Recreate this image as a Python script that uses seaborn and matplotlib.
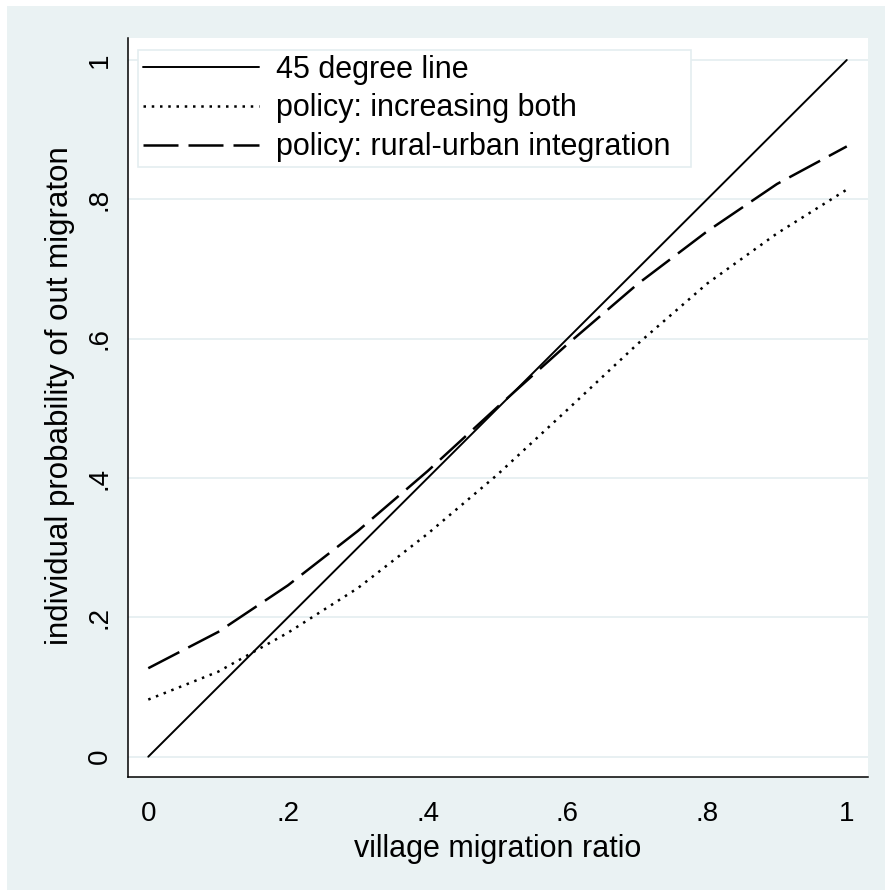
import numpy as np
import pandas as pd
import matplotlib
matplotlib.use("Agg")
import matplotlib.pyplot as plt
from matplotlib.patches import Rectangle
import seaborn as sns

# ---- data ----
village_ratio = [0.0, 0.1, 0.2, 0.3, 0.4, 0.5, 0.6, 0.7, 0.8, 0.9, 1.0]
line_45 = [0.0, 0.1, 0.2, 0.3, 0.4, 0.5, 0.6, 0.7, 0.8, 0.9, 1.0]
increasing_both = [0.082, 0.122, 0.178, 0.242, 0.320, 0.405, 0.498, 0.592, 0.679, 0.751, 0.814]
rural_urban = [0.127, 0.179, 0.246, 0.324, 0.410, 0.502, 0.592, 0.678, 0.754, 0.822, 0.876]

series_labels = ["45 degree line", "policy: increasing both", "policy: rural-urban integration"]
tick_values = [0, 0.2, 0.4, 0.6, 0.8, 1.0]
tick_labels = ["0", ".2", ".4", ".6", ".8", "1"]
x_title = "village migration ratio"
y_title = "individual probability of out migraton"

sns.set_style("white")
plt.rcParams["font.family"] = ["Liberation Sans", "DejaVu Sans"]
plt.rcParams["text.color"] = "black"

W, H = 885, 890
fig = plt.figure(figsize=(W / 100, H / 100), dpi=100)
fig.patch.set_facecolor("white")
bg = "#EAF2F3"
fig.add_artist(Rectangle((7 / W, 0), 1 - 7 / W, (H - 6) / H, transform=fig.transFigure,
                         facecolor=bg, edgecolor="none", zorder=-10))

ax_l, ax_r, ax_t, ax_b = 128.3, 868.0, 38.0, 776.7
ax = fig.add_axes([ax_l / W, (H - ax_b) / H, (ax_r - ax_l) / W, (ax_b - ax_t) / H])
ax.set_facecolor("white")

df45 = pd.DataFrame({"x": village_ratio, "y": line_45})
dfb = pd.DataFrame({"x": village_ratio, "y": increasing_both})
dfr = pd.DataFrame({"x": village_ratio, "y": rural_urban})

sns.lineplot(data=df45, x="x", y="y", ax=ax, color="black", linewidth=1.4,
             linestyle="-", label=series_labels[0])
sns.lineplot(data=dfb, x="x", y="y", ax=ax, color="black", linewidth=1.8,
             linestyle=(0, (1, 2.3)), label=series_labels[1])
sns.lineplot(data=dfr, x="x", y="y", ax=ax, color="black", linewidth=1.8,
             linestyle=(0, (14.0, 4.0)), label=series_labels[2])

ax.set_xlim(-0.0286, 1.0304)
ax.set_ylim(-0.0287, 1.0316)

ax.set_xticks(tick_values)
ax.set_xticklabels(tick_labels)
ax.set_yticks(tick_values)
ax.set_yticklabels(tick_labels, rotation=90, va="center")

ax.yaxis.grid(True, color="#E4EDF0", linewidth=1.2)
ax.xaxis.grid(False)
ax.set_axisbelow(True)

for s in ["top", "right"]:
    ax.spines[s].set_visible(False)
for s in ["left", "bottom"]:
    ax.spines[s].set_color("black")
    ax.spines[s].set_linewidth(1.1)

ax.tick_params(axis="both", direction="out", length=9.4, width=1.1, color="black",
               labelsize=20, labelcolor="black")
ax.tick_params(axis="x", pad=8)
ax.tick_params(axis="y", pad=2)

ax.set_xlabel(x_title, fontsize=22, color="black")
ax.set_ylabel(y_title, fontsize=22.5, color="black")
ax.xaxis.set_label_coords((498 - ax_l) / (ax_r - ax_l), (ax_b - 849) / (ax_b - ax_t))
ax.xaxis.label.set_va("center")
ax.yaxis.set_label_coords((60 - ax_l) / (ax_r - ax_l), (ax_b - 396) / (ax_b - ax_t))
ax.yaxis.label.set_va("center")

leg_x0 = (138 - ax_l) / (ax_r - ax_l)
leg_x1 = (691 - ax_l) / (ax_r - ax_l)
leg_y1 = (ax_b - 50) / (ax_b - ax_t)
leg_y0 = (ax_b - 165) / (ax_b - ax_t)
leg = ax.legend(loc="upper left", bbox_to_anchor=(leg_x0, leg_y0, leg_x1 - leg_x0, leg_y1 - leg_y0),
                mode="expand", borderaxespad=0, fontsize=22, handlelength=3.8,
                handletextpad=0.55, labelspacing=0.29, borderpad=0.15, frameon=True,
                fancybox=False, framealpha=1)
leg.get_frame().set_edgecolor("#E4EDF0")
leg.get_frame().set_linewidth(1.2)
leg.get_frame().set_facecolor("white")
for t in leg.get_texts():
    t.set_color("black")

fig.savefig("out.png", dpi=100, facecolor=fig.get_facecolor())
